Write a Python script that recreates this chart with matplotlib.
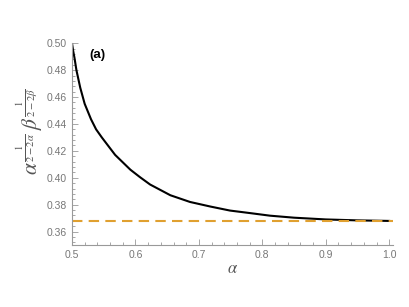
import numpy as np
import matplotlib.pyplot as plt
from matplotlib.ticker import MultipleLocator

plt.rcParams["font.family"] = "Liberation Sans"
plt.rcParams["mathtext.fontset"] = "stix"

alpha = [0.500, 0.502, 0.504, 0.507, 0.513, 0.520, 0.530, 0.538, 0.547, 0.568,
         0.592, 0.607, 0.623, 0.655, 0.686, 0.718, 0.749, 0.781, 0.812, 0.850,
         0.900, 0.950, 1.000]
value = [0.500, 0.494, 0.489, 0.480, 0.467, 0.455, 0.4435, 0.436, 0.430, 0.417,
         0.406, 0.4005, 0.395, 0.387, 0.382, 0.3786, 0.3756, 0.3737, 0.3718, 0.3703,
         0.3690, 0.3683, 0.3679]
limit = 0.3679

grey = "#999999"

fig = plt.figure(figsize=(4.09, 3.07), dpi=100)
ax = fig.add_axes([0.176, 0.202, 0.785, 0.657])

ax.plot(alpha, value, color="black", lw=1.5)
ax.axhline(limit, color="#E0A030", lw=1.5, dashes=(5, 3))

ax.set_xlim(0.5, 1.006)
ax.set_ylim(0.35, 0.50)
ax.xaxis.set_major_locator(MultipleLocator(0.1))
ax.xaxis.set_minor_locator(MultipleLocator(0.02))
ax.yaxis.set_major_locator(MultipleLocator(0.02))
ax.yaxis.set_minor_locator(MultipleLocator(0.004))
ax.xaxis.set_major_formatter(plt.FuncFormatter(lambda v, p: "%.1f" % v))
ax.yaxis.set_major_formatter(plt.FuncFormatter(lambda v, p: "%.2f" % v))

for s in ["top", "right"]:
    ax.spines[s].set_visible(False)
for s in ["left", "bottom"]:
    ax.spines[s].set_color(grey)
    ax.spines[s].set_linewidth(0.8)
ax.tick_params(which="both", direction="in", color=grey, labelcolor="#777777",
               labelsize=7.5, width=0.6)
ax.tick_params(which="major", length=4)
ax.tick_params(which="minor", length=2)

ax.set_xlabel(r"$\alpha$", fontsize=12, color="#555555", labelpad=1)
ax.set_ylabel(r"$\alpha^{\frac{1}{2-2\alpha}}\,\beta^{\frac{1}{2-2\beta}}$",
              fontsize=15.5, color="#555555")
ax.yaxis.set_label_coords(-0.085, 0.56)

ax.text(0.528, 0.489, "(a)", fontsize=9.5, fontweight="bold")

fig.savefig("out.png", dpi=100)
